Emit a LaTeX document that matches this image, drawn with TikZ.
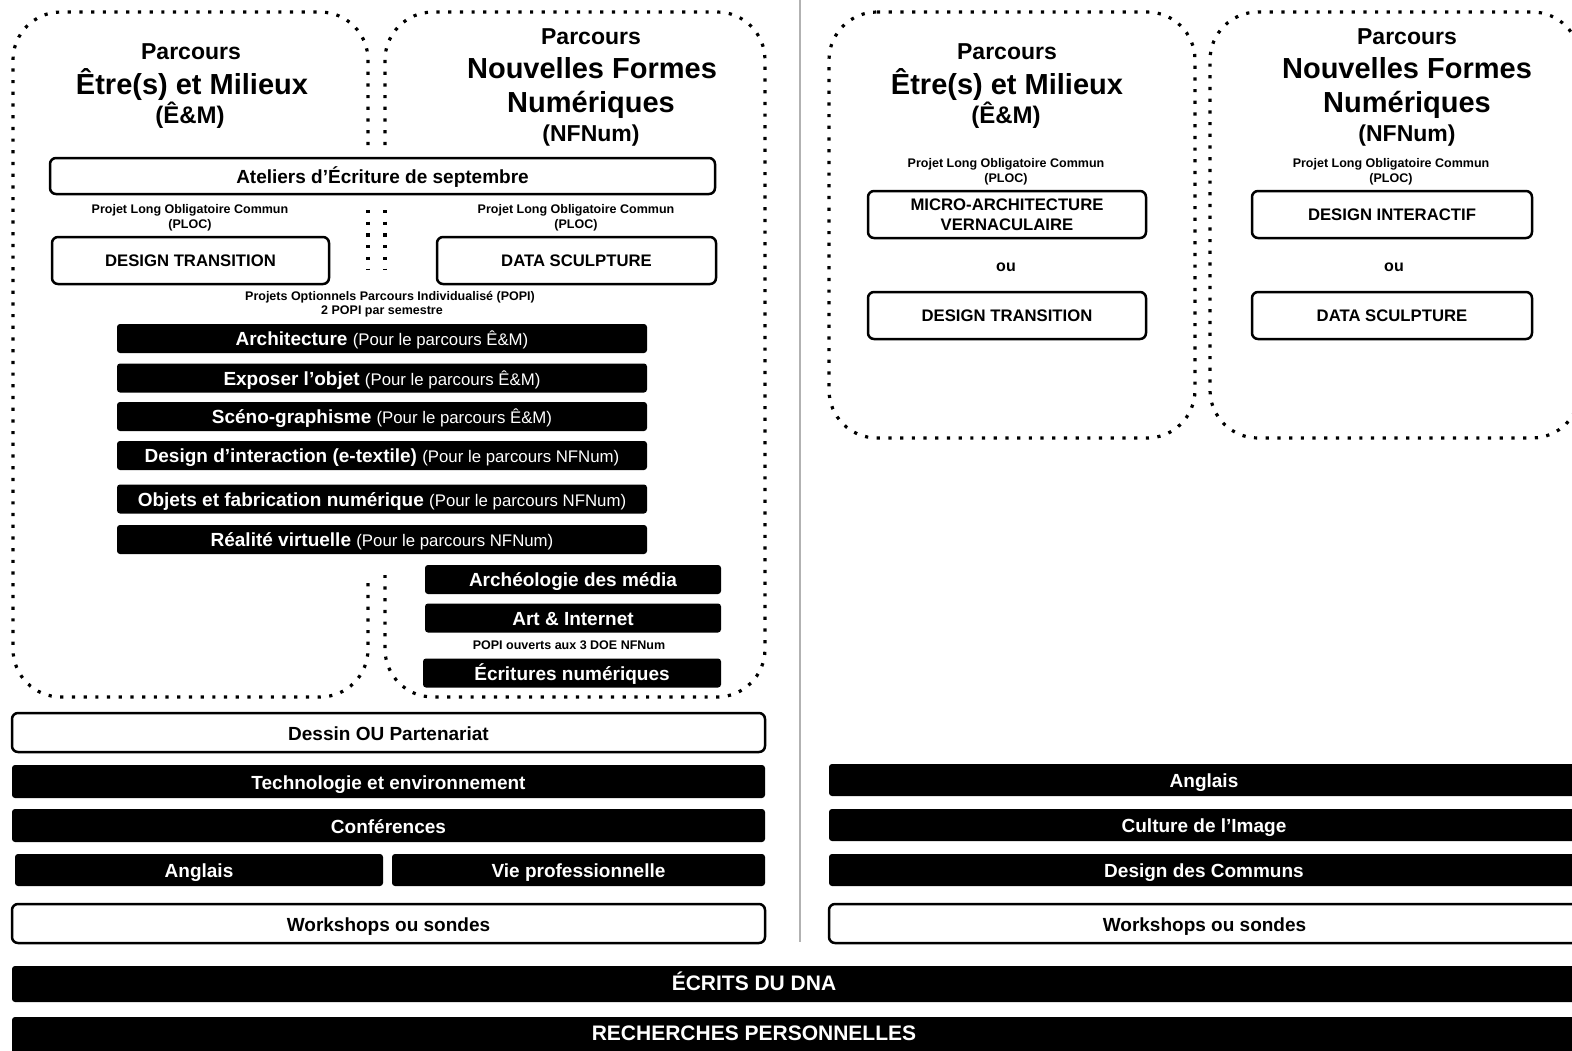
\documentclass[tikz,border=0pt]{standalone}
\usepackage{fontspec}
\setmainfont{Liberation Sans}
\newcommand\fb[1]{\fontsize{#1}{#1}\selectfont\bfseries}
\newcommand\fr[1]{\fontsize{#1}{#1}\selectfont\mdseries}
\tikzset{
  dotbox/.style={line width=3.2pt, dash pattern=on 3.2pt off 8.5pt, rounded corners=48pt},
  wbox/.style={draw, line width=2.5pt, fill=white, rounded corners=6pt, inner sep=0pt,
    font=\fb{19}, text height=15.5pt, text depth=0pt},
  bbox/.style={fill=black, text=white, rounded corners=3pt, inner sep=0pt,
    font=\fb{19}, text height=15.5pt, text depth=0pt},
  pbox/.style={bbox, font=\fb{19}, text height=14pt, minimum width=530pt, minimum height=29pt},
  ploc/.style={wbox, font=\fb{16.7}, text height=12pt, minimum height=47pt},
  tbig/.style={anchor=base, inner sep=0pt, font=\fb{29}},
  tmid/.style={anchor=base, inner sep=0pt, font=\fb{23}},
  tsmall/.style={anchor=base, inner sep=0pt, font=\fb{12.5}},
  tou/.style={anchor=base, inner sep=0pt, font=\fb{16}},
}
\begin{document}
\begin{tikzpicture}[x=1pt,y=-1pt]
\clip (0,0) rectangle (1572,1050);
\fill[white] (0,0) rectangle (1572,1050);

% divider
\draw[black!30, line width=1.2pt] (800,0) -- (800,942);

% ---------------- left panel dotted boxes
\draw[dotbox] (368,145) -- (368,12) -- (13,12) -- (13,697) -- (368,697) -- (368,575);
\draw[dotbox] (368,210) -- (368,270);
\draw[dotbox] (385,145) -- (385,12) -- (765,12) -- (765,697) -- (385,697) -- (385,575);
\draw[dotbox] (385,210) -- (385,270);

% titles left panel
\node[tmid] (pa1) at (191,59) {Parcours};
\node[tbig] (em1) at (192,94) {Être(s) et Milieux};
\node[tmid, font=\fb{24}] (em1b) at (190,123) {(Ê\&M)};
\node[tmid] (pb1) at (591,44) {Parcours};
\node[tbig] (nf1) at (592,78) {Nouvelles Formes};
\node[tbig] (nf1b) at (591,112) {Numériques};
\node[tmid] (nf1c) at (591,141) {(NFNum)};

\node[wbox, minimum width=665pt, minimum height=36pt] (atel) at (382.5,176) {Ateliers d’Écriture de septembre};

\node[tsmall] (plocL1) at (190,213) {Projet Long Obligatoire Commun};
\node[tsmall] (plocL2) at (190,228) {(PLOC)};
\node[tsmall] (plocR1) at (576,213) {Projet Long Obligatoire Commun};
\node[tsmall] (plocR2) at (576,228) {(PLOC)};

\node[ploc, minimum width=277pt] (dt1) at (190.5,260.5) {DESIGN TRANSITION};
\node[ploc, minimum width=279pt] (ds1) at (576.5,260.5) {DATA SCULPTURE};

\node[tsmall] (popi1) at (390,300) {Projets Optionnels Parcours Individualisé (POPI)};
\node[tsmall] (popi2) at (382,314) {2 POPI par semestre};

\node[pbox] (p1) at (382,338.5) {Architecture \fr{16.8}(Pour le parcours Ê\&M)};
\node[pbox] (p2) at (382,378) {Exposer l’objet \fr{16.8}(Pour le parcours Ê\&M)};
\node[pbox] (p3) at (382,416.5) {Scéno-graphisme \fr{16.8}(Pour le parcours Ê\&M)};
\node[pbox] (p4) at (382,455.5) {Design d’interaction (e-textile) \fr{16.8}(Pour le parcours NFNum)};
\node[pbox] (p5) at (382,499) {Objets et fabrication numérique \fr{16.8}(Pour le parcours NFNum)};
\node[pbox] (p6) at (382,539.5) {Réalité virtuelle \fr{16.8}(Pour le parcours NFNum)};

\node[pbox, minimum width=296pt] (n1) at (573,579.5) {Archéologie des média};
\node[pbox, minimum width=296pt] (n2) at (573,618) {Art \& Internet};
\node[tsmall] (popi3) at (569,649) {POPI ouverts aux 3 DOE NFNum};
\node[pbox, minimum width=298pt] (n3) at (572,673) {Écritures numériques};

% bottom rows left
\node[wbox, minimum width=753pt, minimum height=39pt] (dessin) at (388.5,732.5) {Dessin OU Partenariat};
\node[bbox, minimum width=753pt, minimum height=33pt] (techno) at (388.5,781.5) {Technologie et environnement};
\node[bbox, minimum width=753pt, minimum height=33pt] (conf) at (388.5,825.5) {Conférences};
\node[bbox, minimum width=368pt, minimum height=32pt] (angL) at (199,870) {Anglais};
\node[bbox, minimum width=373pt, minimum height=32pt] (viepro) at (578.5,870) {Vie professionnelle};
\node[wbox, minimum width=753pt, minimum height=39pt] (wsL) at (388.5,923.5) {Workshops ou sondes};

% ---------------- right panel
\draw[dotbox] (829,12) -- (1195,12) -- (1195,438) -- (829,438) -- cycle;
\draw[dotbox] (1210,12) -- (1580,12) -- (1580,438) -- (1210,438) -- cycle;

\node[tmid] (pa2) at (1007,59) {Parcours};
\node[tbig] (em2) at (1007,94) {Être(s) et Milieux};
\node[tmid, font=\fb{24}] (em2b) at (1006,123) {(Ê\&M)};
\node[tmid] (pb2) at (1407,44) {Parcours};
\node[tbig] (nf2) at (1407,78) {Nouvelles Formes};
\node[tbig] (nf2b) at (1407,112) {Numériques};
\node[tmid] (nf2c) at (1407,141) {(NFNum)};

\node[tsmall] (ploc2L1) at (1006,167) {Projet Long Obligatoire Commun};
\node[tsmall] (ploc2L2) at (1006,182) {(PLOC)};
\node[tsmall] (ploc2R1) at (1391,167) {Projet Long Obligatoire Commun};
\node[tsmall] (ploc2R2) at (1391,182) {(PLOC)};

\node[ploc, minimum width=278pt, align=center, text height=32pt, text depth=0pt] (micro) at (1007,214.5) {MICRO-ARCHITECTURE\\[3.3pt]VERNACULAIRE};
\node[tou] (ou1) at (1006,271) {ou};
\node[ploc, minimum width=278pt] (dt2) at (1007,315.5) {DESIGN TRANSITION};

\node[ploc, minimum width=280pt] (di) at (1392,214.5) {DESIGN INTERACTIF};
\node[tou] (ou2) at (1394,271) {ou};
\node[ploc, minimum width=280pt] (ds2) at (1392,315.5) {DATA SCULPTURE};

\node[bbox, minimum width=750pt, minimum height=32pt] (angR) at (1204,780) {Anglais};
\node[bbox, minimum width=750pt, minimum height=32pt] (cult) at (1204,825) {Culture de l’Image};
\node[bbox, minimum width=750pt, minimum height=32pt] (commons) at (1204,870) {Design des Communs};
\node[wbox, minimum width=751pt, minimum height=39pt] (wsR) at (1204.5,923.5) {Workshops ou sondes};

% ---------------- full width bars
\node[bbox, minimum width=1578pt, minimum height=36pt] (dna) at (801,984) {};
\node[anchor=base, inner sep=0pt, text=white, font=\fb{21}] (dnat) at (754,990) {ÉCRITS DU DNA};
\node[bbox, minimum width=1578pt, minimum height=38pt] (rech) at (801,1036) {};
\node[anchor=base, inner sep=0pt, text=white, font=\fb{21}] (recht) at (754,1040) {RECHERCHES PERSONNELLES};
\end{tikzpicture}
\end{document}
